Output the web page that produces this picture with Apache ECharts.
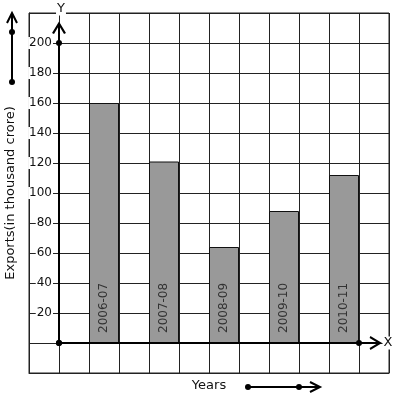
<!DOCTYPE html>
<html>

<head>
  <meta charset="utf-8">
  <style>
    html,
    body {
      width: 100%;
      height: 100%;
      margin: 0;
      padding: 0;
      overflow: hidden;
      background-color: #fff;
    }

    #container {
      width: 397px;
      height: 399px;
      position: absolute;
      top: 0;
      left: 0;
    }
  </style>
</head>

<body>
  <div id="container"></div>

  <script src="https://cdn.jsdelivr.net/npm/echarts@6/dist/echarts.min.js"></script>
  <script>
    // data
    var years = ['2006-07', '2007-08', '2008-09', '2009-10', '2010-11'];
    var exportValues = [160, 121, 64, 88, 112];
    var yTickLabels = [20, 40, 60, 80, 100, 120, 140, 160, 180, 200];

    var LINE = '#222';
    var FONT = 'DejaVu Sans';

    // bars sit in every second grid column, starting at the 2nd column right of the Y axis
    var barData = years.map(function (name, i) {
      return { name: name, value: [1.5 + 2 * i, exportValues[i]] };
    });

    var chevronUp = 'path://M0,10L5,0L10,10';
    var chevronRight = 'path://M0,0L10,5L0,10';
    var chevronStyle = { color: 'none', borderColor: '#000', borderWidth: 2 };

    var chart = echarts.init(document.getElementById('container'));

    chart.setOption({
      animation: false,
      textStyle: { fontFamily: FONT },
      grid: {
        left: 29,
        right: 8,
        top: 13,
        bottom: 26,
        show: true,
        borderColor: LINE,
        borderWidth: 1,
        containLabel: false,
        outerBoundsMode: 'none'
      },
      xAxis: {
        type: 'value',
        min: -1,
        max: 11,
        interval: 1,
        name: 'Years',
        nameLocation: 'middle',
        nameGap: 6,
        nameTextStyle: { fontSize: 13, color: '#111', verticalAlign: 'top' },
        axisLine: { show: true, onZero: false, lineStyle: { color: LINE, width: 1 } },
        axisTick: { show: false },
        axisLabel: { show: false },
        splitLine: { show: true, lineStyle: { color: LINE, width: 1 } }
      },
      yAxis: {
        type: 'value',
        min: -20,
        max: 220,
        interval: 20,
        name: 'Exports(in thousand crore)',
        nameLocation: 'middle',
        nameGap: 10,
        nameTextStyle: { fontSize: 13, color: '#111' },
        axisLine: { show: true, onZero: false, lineStyle: { color: LINE, width: 1 } },
        axisTick: { show: false },
        axisLabel: {
          inside: true,
          margin: 24,
          align: 'right',
          fontSize: 12,
          color: '#111',
          backgroundColor: '#fff',
          padding: [0, 1],
          formatter: function (v) {
            return yTickLabels.indexOf(v) >= 0 ? String(v) : '';
          }
        },
        splitLine: { show: true, lineStyle: { color: LINE, width: 1 } }
      },
      series: [
        {
          type: 'bar',
          data: barData,
          barWidth: 30,
          itemStyle: { color: '#999', borderColor: '#111', borderWidth: 1 },
          label: {
            show: true,
            formatter: '{b}',
            position: 'insideBottom',
            rotate: 90,
            align: 'left',
            verticalAlign: 'middle',
            distance: 10,
            fontSize: 12,
            color: '#333'
          }
        },
        {
          // thick Y axis with arrow
          type: 'line',
          silent: true,
          z: 5,
          symbol: 'circle',
          symbolSize: 6,
          itemStyle: { color: '#000' },
          lineStyle: { color: '#000', width: 2 },
          data: [
            { value: [0, 0] },
            { value: [0, 200] },
            { value: [0, 213], symbol: chevronUp, symbolSize: [12, 10], symbolOffset: [0, 5], itemStyle: chevronStyle }
          ]
        },
        {
          // thick X axis with arrow
          type: 'line',
          silent: true,
          z: 5,
          symbol: 'circle',
          symbolSize: 6,
          itemStyle: { color: '#000' },
          lineStyle: { color: '#000', width: 2 },
          data: [
            { value: [0, 0] },
            { value: [10, 0] },
            { value: [10.7, 0], symbol: chevronRight, symbolSize: [10, 12], symbolOffset: [-5, 0], itemStyle: chevronStyle }
          ]
        }
      ],
      graphic: [
        // axis letters
        { type: 'text', x: 61, y: 9, z: 10, style: { text: 'Y', font: '13px DejaVu Sans', fill: '#111', align: 'center', verticalAlign: 'middle', backgroundColor: '#fff', padding: [0, 1] } },
        { type: 'text', x: 388, y: 343, z: 10, style: { text: 'X', font: '13px DejaVu Sans', fill: '#111', align: 'center', verticalAlign: 'middle', backgroundColor: '#fff', padding: [0, 1] } },
        // direction arrow beside the Y title
        { type: 'polyline', shape: { points: [[12, 82], [12, 14]] }, style: { stroke: '#000', lineWidth: 2, fill: 'none' } },
        { type: 'polyline', shape: { points: [[7, 23], [12, 13], [17, 23]] }, style: { stroke: '#000', lineWidth: 2, fill: 'none' } },
        { type: 'circle', shape: { cx: 12, cy: 32, r: 3 }, style: { fill: '#000' } },
        { type: 'circle', shape: { cx: 12, cy: 82, r: 3 }, style: { fill: '#000' } },
        // direction arrow after the X title
        { type: 'polyline', shape: { points: [[248, 387], [318, 387]] }, style: { stroke: '#000', lineWidth: 2, fill: 'none' } },
        { type: 'polyline', shape: { points: [[310, 382], [320, 387], [310, 392]] }, style: { stroke: '#000', lineWidth: 2, fill: 'none' } },
        { type: 'circle', shape: { cx: 248, cy: 387, r: 3 }, style: { fill: '#000' } },
        { type: 'circle', shape: { cx: 299, cy: 387, r: 3 }, style: { fill: '#000' } }
      ]
    });
  </script>
</body>

</html>
